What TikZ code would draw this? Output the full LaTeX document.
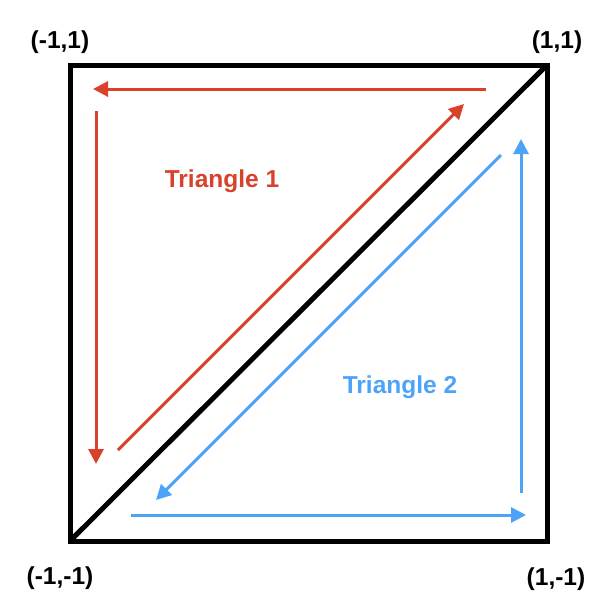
\documentclass[tikz,border=0pt]{standalone}
\usepackage{fontspec}
\setmainfont{Liberation Sans}
\usepackage{tikz}
\usetikzlibrary{arrows.meta, positioning}
\definecolor{trired}{HTML}{D9412B}
\definecolor{triblue}{HTML}{4DA3F8}

\begin{document}
\begin{tikzpicture}[x=1pt, y=-1pt,
    cornerlabel/.style={font=\bfseries\fontsize{24.5}{28}\selectfont, inner sep=0pt},
    trilabel/.style={font=\bfseries\fontsize{24.5}{28}\selectfont, inner sep=0pt},
    edge/.style={line width=5pt, line join=miter},
    redarrow/.style={draw=trired, line width=3pt, -{Triangle[length=15pt, width=15pt]}},
    bluearrow/.style={draw=triblue, line width=3pt, -{Triangle[length=15pt, width=15pt]}}]
\useasboundingbox (0,0) rectangle (612,614);

% corners of the square
\coordinate (tl) at (70,65);
\coordinate (tr) at (547,65);
\coordinate (br) at (547,541);
\coordinate (bl) at (70,541);

\draw[edge] (bl) -- (br) -- (tr) -- (tl) -- cycle;
\draw[edge] (bl) -- (tr);

% corner labels
\node[cornerlabel] (lbltl) at (60,42) {(-1,1)};
\node[cornerlabel] (lbltr) at (557,42) {(1,1)};
\node[cornerlabel] (lblbl) at (60,578) {(-1,-1)};
\node[cornerlabel] (lblbr) at (556,579) {(1,-1)};

% triangle 1
\node[trilabel, text=trired] (tri1) at (222,181) {Triangle 1};
\coordinate (r1) at (486,89);
\coordinate (r2) at (93,89);
\coordinate (r3) at (96,111);
\coordinate (r4) at (96,464);
\coordinate (r5) at (118,450);
\coordinate (r6) at (464,104);
\draw[redarrow] (r1) -- (r2);
\draw[redarrow] (r3) -- (r4);
\draw[redarrow] (r5) -- (r6);

% triangle 2
\node[trilabel, text=triblue] (tri2) at (400,387) {Triangle 2};
\coordinate (b1) at (501,155);
\coordinate (b2) at (156,500);
\coordinate (b3) at (131,515);
\coordinate (b4) at (526,515);
\coordinate (b5) at (521,493);
\coordinate (b6) at (521,139);
\draw[bluearrow] (b1) -- (b2);
\draw[bluearrow] (b3) -- (b4);
\draw[bluearrow] (b5) -- (b6);
\end{tikzpicture}
\end{document}
